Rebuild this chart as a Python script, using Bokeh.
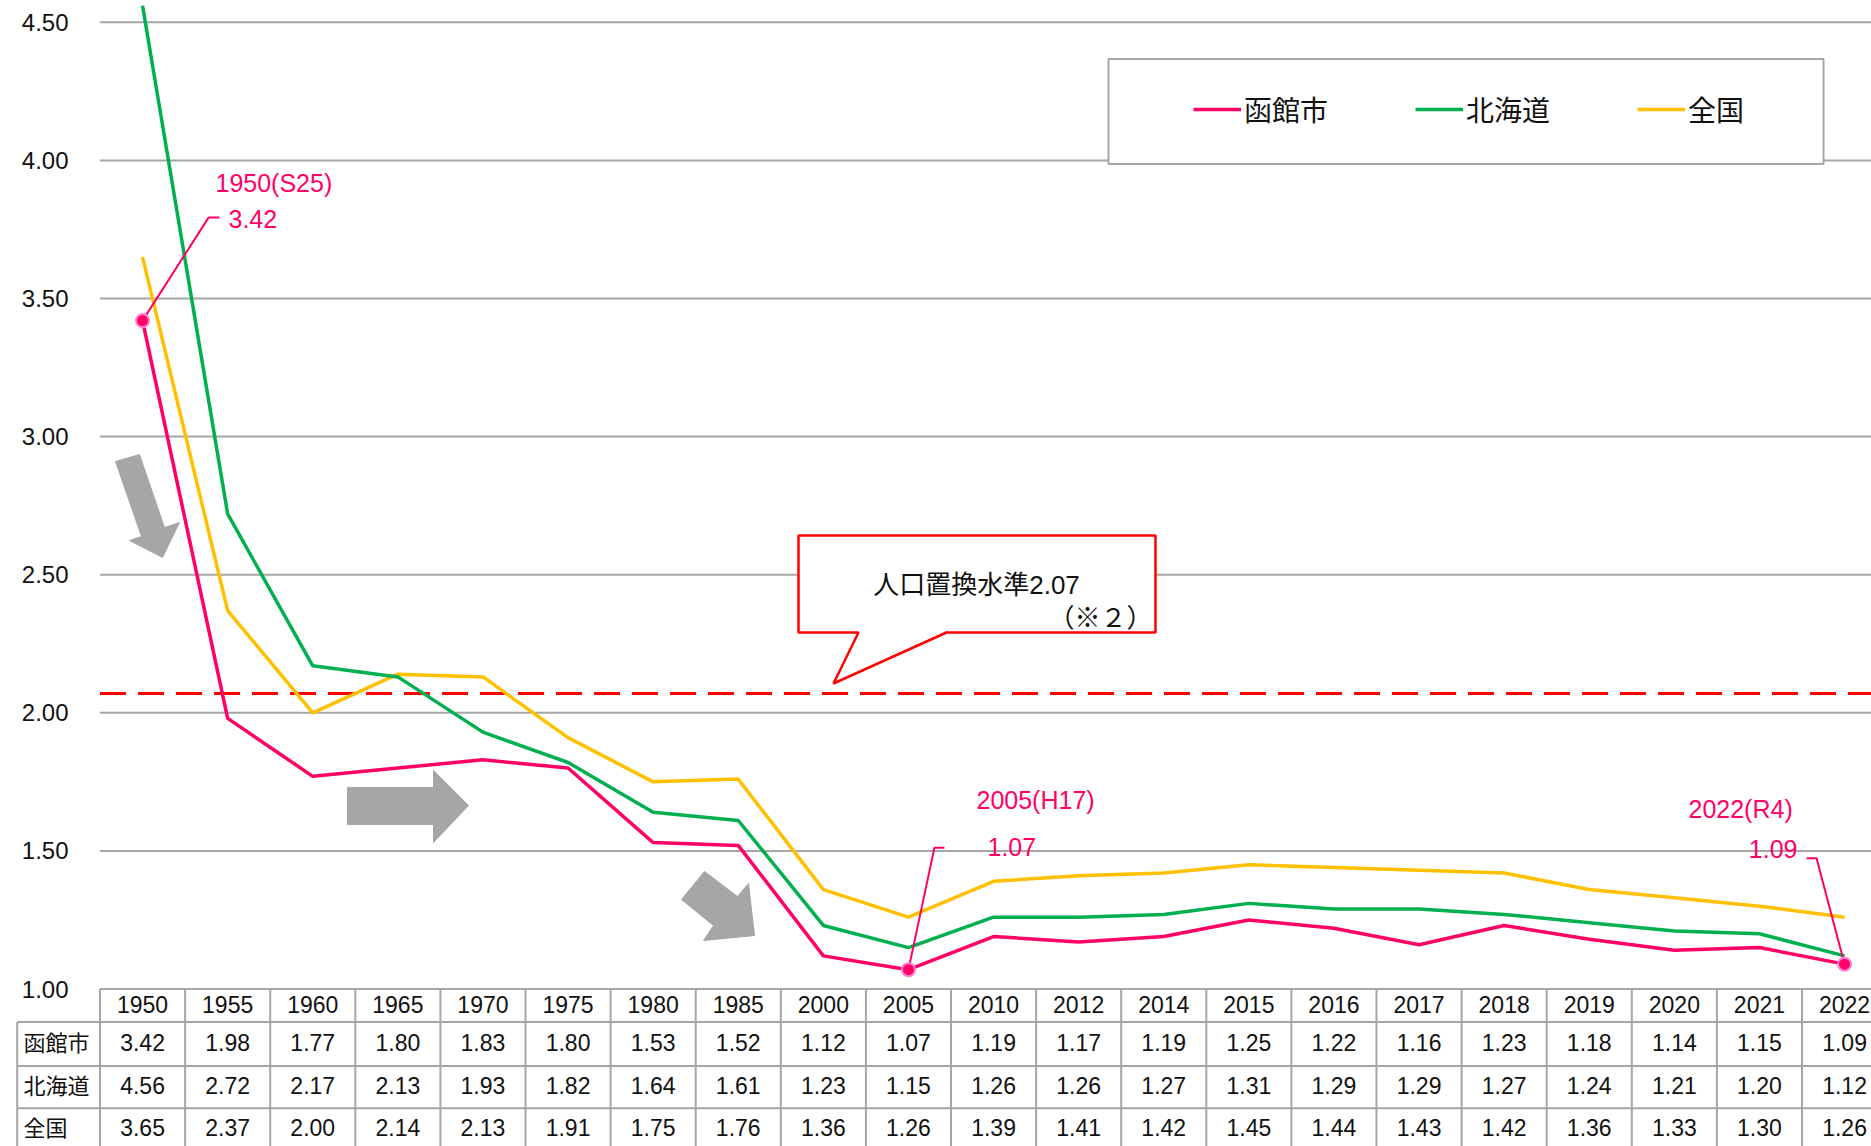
from bokeh.plotting import figure
from bokeh.models import (Range1d, FixedTicker, NumeralTickFormatter, Legend, LegendItem)
from bokeh.core.properties import value
from bokeh.embed import file_html
from bokeh.resources import INLINE

# ---------------- data ----------------
years = ["1950", "1955", "1960", "1965", "1970", "1975", "1980", "1985", "2000", "2005",
         "2010", "2012", "2014", "2015", "2016", "2017", "2018", "2019", "2020", "2021", "2022"]
hakodate = [3.42, 1.98, 1.77, 1.80, 1.83, 1.80, 1.53, 1.52, 1.12, 1.07,
            1.19, 1.17, 1.19, 1.25, 1.22, 1.16, 1.23, 1.18, 1.14, 1.15, 1.09]
hokkaido = [4.56, 2.72, 2.17, 2.13, 1.93, 1.82, 1.64, 1.61, 1.23, 1.15,
            1.26, 1.26, 1.27, 1.31, 1.29, 1.29, 1.27, 1.24, 1.21, 1.20, 1.12]
zenkoku = [3.65, 2.37, 2.00, 2.14, 2.13, 1.91, 1.75, 1.76, 1.36, 1.26,
           1.39, 1.41, 1.42, 1.45, 1.44, 1.43, 1.42, 1.36, 1.33, 1.30, 1.26]
series_names = ["函館市", "北海道", "全国"]
series_colors = ["#FF0066", "#00B050", "#FFC000"]
y_ticks = [1.0, 1.5, 2.0, 2.5, 3.0, 3.5, 4.0, 4.5]
replacement_level = 2.07
highlight_idx = [0, 9, 20]
highlight_era = ["S25", "H17", "R4"]

# ---------------- geometry (pixels) ----------------
W_FIG, H_FIG = 1871, 1146
FRAME_LEFT = 0
COL0_LEFT = 99.5
COL_W = 85.1
PX_Y1 = 988.5
PX_PER_UNIT = 276.2
LABEL_RIGHT = 74


def dx(px):
    return -0.5 + (px - COL0_LEFT) / COL_W


def dy(py):
    return 1 + (PX_Y1 - py) / PX_PER_UNIT


def px_of(i):
    return COL0_LEFT + (i + 0.5) * COL_W


def py_of(v):
    return PX_Y1 - (v - 1) * PX_PER_UNIT


x_start = dx(FRAME_LEFT)
x_end = dx(W_FIG)
y_top = dy(0)
y_bot = dy(H_FIG)

NUM_FONT = value("Liberation Sans")
CJK_FONT = value("Noto Sans CJK JP")
MIX_FONT = value("Liberation Sans, Noto Sans CJK JP")
GRAY = "#A6A6A6"
TXT = "#111111"
PINK = series_colors[0]

p = figure(width=W_FIG, height=H_FIG, x_range=Range1d(x_start, x_end),
           y_range=Range1d(y_bot, y_top), output_backend="svg", toolbar_location=None,
           x_axis_location=None, min_border_left=FRAME_LEFT, min_border_right=0,
           min_border_top=0, min_border_bottom=0, outline_line_color=None)
p.background_fill_color = "white"
p.border_fill_color = "white"

# y axis (labels pulled into the left margin of the frame)
yax = p.yaxis[0]
yax.ticker = FixedTicker(ticks=y_ticks)
yax.formatter = NumeralTickFormatter(format="0.00")
yax.axis_line_color = None
yax.major_tick_line_color = None
yax.minor_tick_line_color = None
yax.major_label_standoff = -(LABEL_RIGHT - FRAME_LEFT)
yax.major_label_text_font = "Liberation Sans"
yax.major_label_text_font_size = "24px"
yax.major_label_text_color = TXT
p.ygrid.visible = False
p.xgrid.visible = False

# horizontal grid lines at the y ticks (start at the plot/table left edge)
p.segment(x0=[-0.5] * len(y_ticks), y0=y_ticks, x1=[x_end] * len(y_ticks), y1=y_ticks,
          line_color=GRAY, line_width=2)

# replacement level dashed line
p.segment(x0=[-0.5], y0=[replacement_level], x1=[x_end], y1=[replacement_level],
          line_color="#FF0000", line_width=3, line_dash="26 12")

# callout box
cb = [(798, 535), (1155, 535), (1155, 632), (946, 632), (833, 683), (858, 632), (798, 632)]
p.patch([dx(a) for a, b in cb], [dy(b) for a, b in cb], fill_color="white",
        line_color="#FF0000", line_width=2.5)
p.text(x=[dx(976)], y=[dy(584)], text=[f"人口置換水準{replacement_level:.2f}"],
       text_font=MIX_FONT, text_font_size="26px", text_color=TXT,
       text_align="center", text_baseline="middle")
p.text(x=[dx(1152)], y=[dy(615)], text=["（※２）"], text_font=CJK_FONT,
       text_font_size="26px", text_color=TXT, text_align="right", text_baseline="middle")

# gray arrows
arrows_px = [
    [(115, 461), (139, 454), (164, 527), (179, 522), (162, 557), (129, 540), (141, 536)],
    [(347, 787), (433, 787), (433, 770), (468, 805), (433, 842), (433, 824), (347, 824)],
    [(704, 871), (737, 896), (748, 883), (754, 935), (703, 940), (713, 925), (681, 899)],
]
p.patches([[dx(a) for a, b in poly] for poly in arrows_px],
          [[dy(b) for a, b in poly] for poly in arrows_px],
          fill_color=GRAY, line_color=GRAY, line_width=1)

# legend box
p.quad(left=[dx(1108)], right=[dx(1823)], top=[dy(58.5)], bottom=[dy(163.5)],
       fill_color="white", line_color=GRAY, line_width=2)

# series lines
xs = list(range(len(years)))
all_series = [hakodate, hokkaido, zenkoku]
renderers = {}
for k in [2, 1, 0]:
    renderers[k] = p.line(xs, all_series[k], line_color=series_colors[k], line_width=3.5)

legend = Legend(items=[LegendItem(label=series_names[k], renderers=[renderers[k]]) for k in range(3)],
                orientation="horizontal", location=(1193 - FRAME_LEFT, H_FIG - 129),
                glyph_width=48, glyph_height=30, label_height=30, label_standoff=3,
                spacing=87, padding=0, margin=0, border_line_color=None,
                background_fill_alpha=0, label_text_font="Noto Sans CJK JP",
                label_text_font_size="28px", label_text_color=TXT,
                label_text_baseline="middle")
p.add_layout(legend)

# highlight annotations (leaders + labels)
leader_offsets = [[(66, -103), (77, -103)], [(26, -122), (36, -122)], [(-28, -106), (-38, -106)]]
year_lbl_pos = [(215, 182), (976, 799), (1688, 808)]
val_lbl_pos = [(228, 218, "left"), (987, 846, "left"), (1797, 848, "right")]
for j, i in enumerate(highlight_idx):
    v = hakodate[i]
    x0, y0 = px_of(i), py_of(v)
    pts = [(x0, y0)] + [(x0 + ox, y0 + oy) for ox, oy in leader_offsets[j]]
    p.line([dx(a) for a, b in pts], [dy(b) for a, b in pts], line_color=PINK, line_width=2)
    p.text(x=[dx(year_lbl_pos[j][0])], y=[dy(year_lbl_pos[j][1])],
           text=[f"{years[i]}({highlight_era[j]})"], text_font=NUM_FONT,
           text_font_size="25px", text_color=PINK, text_align="left", text_baseline="middle")
    vx, vy, al = val_lbl_pos[j]
    p.text(x=[dx(vx)], y=[dy(vy)], text=[f"{v:.2f}"], text_font=NUM_FONT,
           text_font_size="25px", text_color=PINK, text_align=al, text_baseline="middle")
p.scatter([highlight_idx[0], highlight_idx[1], highlight_idx[2]],
          [hakodate[i] for i in highlight_idx], size=13, fill_color=PINK,
          line_color="#FF80D5", line_width=2)

# ---------------- table ----------------
row_edges = [988.5, 1021.5, 1065.5, 1107.7, 1175]
label_left = 16.7
# horizontal borders: header top spans only the data columns; data rows include label column
p.segment(x0=[-0.5] + [dx(label_left)] * 3, y0=[dy(r) for r in row_edges[:4]],
          x1=[x_end + 1] * 4, y1=[dy(r) for r in row_edges[:4]],
          line_color=GRAY, line_width=2)
ncol = len(years) + 1
p.segment(x0=[k - 0.5 for k in range(ncol)], y0=[dy(row_edges[0])] * ncol,
          x1=[k - 0.5 for k in range(ncol)], y1=[dy(row_edges[-1])] * ncol,
          line_color=GRAY, line_width=2)
p.segment(x0=[dx(label_left)], y0=[dy(row_edges[1])], x1=[dx(label_left)], y1=[dy(row_edges[-1])],
          line_color=GRAY, line_width=2)
p.text(x=xs, y=[dy(1004)] * len(xs), text=years, text_font=NUM_FONT, text_font_size="23px",
       text_color=TXT, text_align="center", text_baseline="middle")
row_centers = [1042, 1085, 1127]
for k in range(3):
    p.text(x=xs, y=[dy(row_centers[k])] * len(xs), text=[f"{v:.2f}" for v in all_series[k]],
           text_font=NUM_FONT, text_font_size="23px", text_color=TXT,
           text_align="center", text_baseline="middle")
p.text(x=[dx(23)] * 3, y=[dy(c - 2) for c in row_centers], text=series_names,
       text_font=CJK_FONT, text_font_size="22px", text_color=TXT,
       text_align="left", text_baseline="middle")

open("out.html", "w").write(file_html(p, INLINE))
